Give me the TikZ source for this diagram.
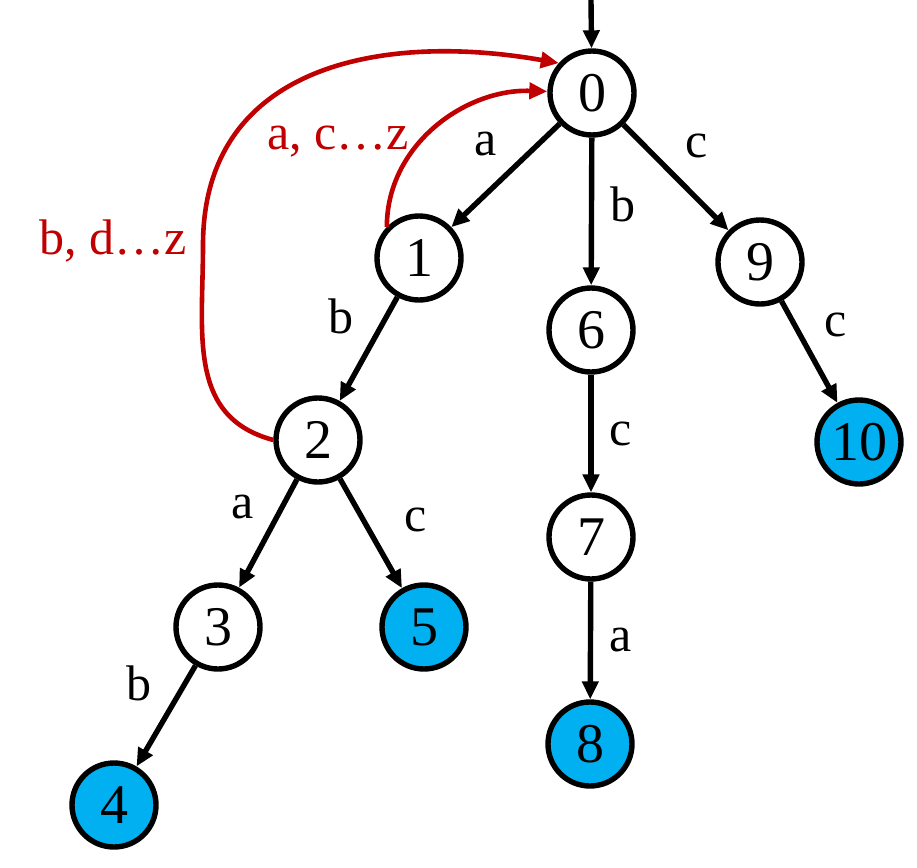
\documentclass[tikz,border=0pt]{standalone}
\usepackage{fontspec}
\setmainfont{Liberation Serif}
\usetikzlibrary{positioning,calc,arrows.meta}
\definecolor{acceptblue}{HTML}{00B0F0}
\definecolor{failred}{HTML}{C00000}

\begin{document}
\begin{tikzpicture}[>={Triangle[length=9pt,width=8pt]}, x=0.5pt, y=-0.5pt]
    \tikzstyle{state} = [circle, draw, line width=2.7pt, minimum size=42pt, inner sep=0pt, font=\fontsize{28}{30}\selectfont]
    \tikzstyle{accept} = [state, fill=acceptblue]
    \tikzstyle{trans} = [->, line width=2.7pt]
    \tikzstyle{fail} = [->, line width=2.3pt, draw=failred, color=failred]
    \tikzstyle{lbl} = [font=\fontsize{25}{28}\selectfont, inner sep=6pt]
    \useasboundingbox (0,0) rectangle (917,868);
    \node[state] (s0) at (592,93) {0};
    \node[state] (s1) at (419,258) {1};
    \node[state] (s6) at (591,330) {6};
    \node[state] (s9) at (760,262) {9};
    \node[state] (s2) at (318,440) {2};
    \node[accept] (s10) at (859,442) {10};
    \node[state] (s7) at (591,537) {7};
    \node[state] (s3) at (218,627) {3};
    \node[accept] (s5) at (424,627) {5};
    \node[accept] (s8) at (590,744) {8};
    \node[accept] (s4) at (114,805) {4};
    \coordinate (start) at (591,0);
    \draw[trans] (start) -- (s0);
    \draw[trans] (s0) -- node[lbl, above left, pos=0.45] {a} (s1);
    \draw[trans] (s0) -- node[lbl, right, pos=0.45, xshift=2pt] {b} (s6);
    \draw[trans] (s0) -- node[lbl, above right, pos=0.45] {c} (s9);
    \draw[trans] (s1) -- node[lbl, above left] {b} (s2);
    \draw[trans] (s9) -- node[lbl, above right] {c} (s10);
    \draw[trans] (s6) -- node[lbl, right, xshift=2pt] {c} (s7);
    \draw[trans] (s2) -- node[lbl, above left] {a} (s3);
    \draw[trans] (s2) -- node[lbl, right=13pt, pos=0.38] {c} (s5);
    \draw[trans] (s7) -- node[lbl, right, xshift=2pt] {a} (s8);
    \draw[trans] (s3) -- node[lbl, above left] {b} (s4);
    % failure links
    \coordinate (loop) at (203,245);
    \draw[fail] (s1.136) to[out=90,in=178] (s0.178);
    \draw[fail] (s2.west) to[out=165,in=-90,looseness=1.1] (loop) to[out=90,in=170,looseness=1.15] (s0.138);
    \node[lbl, text=failred] (f1) at (338,142) {a, c\ldots z};
    \node[lbl, text=failred] (f2) at (113,241) {b, d\ldots z};
\end{tikzpicture}
\end{document}
